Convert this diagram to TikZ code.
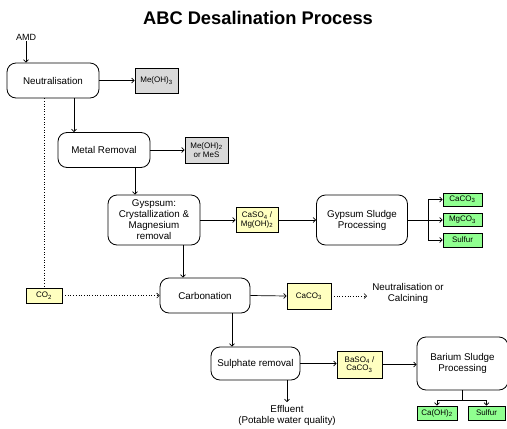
\documentclass[tikz,border=0pt]{standalone}
\usepackage{fontspec}
\setmainfont{Liberation Sans}
\usetikzlibrary{arrows.meta}
\definecolor{boxgray}{HTML}{D9D9D9}
\definecolor{boxyellow}{HTML}{FFFFC0}
\definecolor{boxgreen}{HTML}{90FF90}
\begin{document}
\begin{tikzpicture}[x=1pt,y=-1pt,
  proc/.style={draw,line width=0.8pt,rounded corners=9pt,align=center,font=\fontsize{9.8}{11}\selectfont,inner sep=1pt},
  prod/.style={draw,line width=0.7pt,align=center,font=\fontsize{8}{8.6}\selectfont,inner sep=1pt},
  gray/.style={prod,fill=boxgray},
  yel/.style={prod,fill=boxyellow},
  grn/.style={prod,fill=boxgreen},
  arr/.style={line width=0.7pt,-{Straight Barb[length=2.5pt,width=5pt]}},
  ln/.style={line width=0.7pt},
  dot/.style={line width=0.6pt,dotted},
  lbl/.style={align=center,font=\fontsize{9.8}{11}\selectfont,inner sep=1pt}]
\useasboundingbox (0,0) rectangle (507,429);
\node[font=\fontsize{18.3}{20}\selectfont\bfseries] (title) at (258,18) {ABC Desalination Process};
\node[lbl,font=\fontsize{9}{10}\selectfont] (amd) at (26,37) {AMD};
\node[proc,minimum width=92pt,minimum height=35pt] (neut) at (53,80.5) {Neutralisation};
\node[gray,minimum width=43pt,minimum height=25pt] (meoh3) at (156.5,80.5) {Me(OH)\textsubscript{3}};
\node[proc,minimum width=92pt,minimum height=35pt] (metal) at (104,150) {Metal Removal};
\node[gray,minimum width=43pt,minimum height=26pt] (meoh2) at (206.5,150) {Me(OH)\textsubscript{2}\\or MeS};
\node[proc,minimum width=92pt,minimum height=50pt] (gyps) at (154,220) {Gyspsum:\\Crystallization \&\\Magnesium\\removal};
\node[yel,minimum width=42pt,minimum height=25pt] (caso4) at (257,220) {CaSO\textsubscript{4} /\\Mg(OH)\textsubscript{2}};
\node[proc,minimum width=91pt,minimum height=50pt] (gsludge) at (362,220) {Gypsum Sludge\\Processing};
\node[grn,minimum width=39pt,minimum height=13pt] (caco3a) at (462.5,199.5) {CaCO\textsubscript{3}};
\node[grn,minimum width=39pt,minimum height=13pt] (mgco3) at (462.5,220) {MgCO\textsubscript{3}};
\node[grn,minimum width=39pt,minimum height=14pt] (sulfura) at (462.5,240) {Sulfur};
\node[yel,minimum width=36pt,minimum height=15pt] (co2) at (44,295.5) {CO\textsubscript{2}};
\node[proc,minimum width=90pt,minimum height=35pt] (carb) at (205,295.5) {Carbonation};
\node[yel,minimum width=44pt,minimum height=26pt] (caco3b) at (309,296) {CaCO\textsubscript{3}};
\node[lbl] (calc) at (408,293) {Neutralisation or\\Calcining};
\node[proc,minimum width=89pt,minimum height=33pt] (sulph) at (255.5,363.5) {Sulphate removal};
\node[yel,minimum width=45pt,minimum height=27pt] (baso4) at (359.5,364.5) {BaSO\textsubscript{4} /\\CaCO\textsubscript{3}};
\node[proc,minimum width=91pt,minimum height=53pt] (barium) at (462.5,363.5) {Barium Sludge\\Processing};
\node[grn,minimum width=40pt,minimum height=14pt] (caoh2) at (437,413) {Ca(OH)\textsubscript{2}};
\node[grn,minimum width=37pt,minimum height=14pt] (sulfurb) at (486.5,413) {Sulfur};
\node[lbl] (eff) at (287,415) {Effluent\\(Potable water quality)};
% connectors
\draw[arr] (amd.south) -- (amd.south |- neut.north);
\draw[arr] (neut.east) -- (meoh3.west);
\draw[dot] (co2.north |- neut.south) -- (co2.north);
\draw[arr] ([xshift=21pt]neut.south) -- ([xshift=21pt]neut.south |- metal.north);
\draw[arr] (metal.east) -- (meoh2.west);
\draw[arr] ([xshift=31pt]metal.south) -- ([xshift=31pt]metal.south |- gyps.north);
\draw[arr] (gyps.east) -- (caso4.west);
\draw[arr] (caso4.east) -- (gsludge.west);
\coordinate (br1) at (428,220);
\draw[arr] (gsludge.east) -- (mgco3.west);
\draw[ln] (br1 |- caco3a.west) -- (br1 |- sulfura.west);
\draw[arr] (br1 |- caco3a.west) -- (caco3a.west);
\draw[arr] (br1 |- sulfura.west) -- (sulfura.west);
\draw[arr] ([xshift=29pt]gyps.south) -- ([xshift=29pt]gyps.south |- carb.north);
\draw[arr,dotted,line width=0.6pt] (co2.east) -- (carb.west);
\draw[arr] (carb.east) -- (caco3b.west);
\coordinate (calcin) at (367,296);
\draw[arr,dotted,line width=0.6pt] (caco3b.east) -- (calcin);
\draw[arr] ([xshift=27pt]carb.south) -- ([xshift=27pt]carb.south |- sulph.north);
\draw[arr] (sulph.east) -- (sulph.east -| baso4.west);
\draw[arr] (baso4.east) -- (baso4.east -| barium.west);
\coordinate (effin) at (287,402);
\draw[arr] (sulph.south -| effin) -- (effin);
\coordinate (bj) at (462.5,400);
\draw[ln] (barium.south) -- (bj);
\draw[arr] (bj) -| (caoh2.north);
\draw[arr] (bj) -| (sulfurb.north);
\end{tikzpicture}
\end{document}
